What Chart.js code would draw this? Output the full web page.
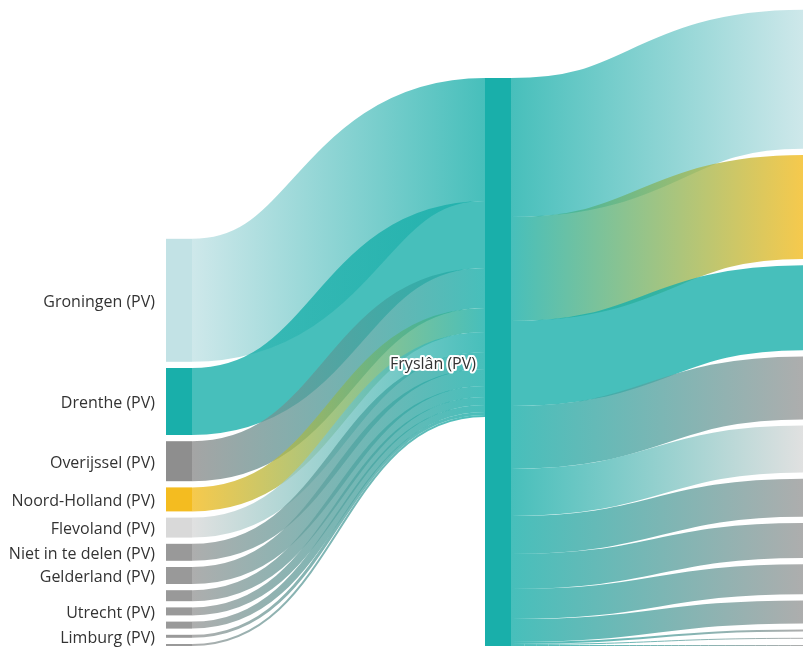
<!DOCTYPE html>
<html>
<head>
<meta charset="utf-8">
<script src="https://cdn.jsdelivr.net/npm/chart.js@4.4.1/dist/chart.umd.min.js"></script>
<style>
  html, body { margin: 0; padding: 0; background: #ffffff; }
  #wrap { width: 803px; height: 648px; }
</style>
</head>
<body>
<div id="wrap"><canvas id="c" width="803" height="648"></canvas></div>
<script>
// ---- data ----
const sourceNodes = ['Groningen (PV)', 'Drenthe (PV)', 'Overijssel (PV)', 'Noord-Holland (PV)', 'Flevoland (PV)',
  'Niet in te delen (PV)', 'Gelderland (PV)', 'Zuid-Holland (PV)', 'Utrecht (PV)', 'Noord-Brabant (PV)',
  'Limburg (PV)', 'Zeeland (PV)'];
const sourceValues = [123, 67, 40, 24, 20, 17, 17, 11, 8, 7, 3, 2];
const sourceColors = ['#c2e2e5', '#19afaa', '#8e8e8e', '#f4bc20', '#d9d9d9',
  '#999999', '#999999', '#999999', '#999999', '#999999', '#999999', '#999999'];

const hubNode = 'Fryslân (PV)';
const hubColor = '#19afaa';

const targetNodes = ['Groningen', 'Noord-Holland', 'Drenthe', 'Overijssel', 'Flevoland', 'Gelderland',
  'Zuid-Holland', 'Niet in te delen', 'Utrecht', 'Noord-Brabant', 'Limburg', 'Zeeland'];
const targetValues = [139, 104, 85, 63, 47, 38, 35, 30, 23, 2, 1, 1];
const targetColors = ['#c2e2e5', '#f4bc20', '#19afaa', '#999999', '#d9d9d9',
  '#999999', '#999999', '#999999', '#999999', '#999999', '#999999', '#999999'];

// ---- layout settings ----
const NODE_WIDTH = 26;      // px
const NODE_PADDING = 6.2;   // value units (y scale is 1 unit per px)
const BASELINE = 646;       // columns are bottom aligned here (value units)
const LINK_ALPHA = 0.8;
const LABEL_GAP = 22;       // min distance between label centres
const FONT = '16px "Open Sans", "Noto Sans", sans-serif';

function hexToRgba(hex, a) {
  const n = parseInt(hex.slice(1), 16);
  return 'rgba(' + ((n >> 16) & 255) + ',' + ((n >> 8) & 255) + ',' + (n & 255) + ',' + a + ')';
}

// Build node/link tables from the arrays
function buildGraph() {
  const nodes = [];
  sourceNodes.forEach((name, i) => nodes.push({ name, color: sourceColors[i], col: 0, value: sourceValues[i] }));
  const hubIdx = nodes.length;
  const hubIn = sourceValues.reduce((a, b) => a + b, 0);
  const hubOut = targetValues.reduce((a, b) => a + b, 0);
  nodes.push({ name: hubNode, color: hubColor, col: 1, value: Math.max(hubIn, hubOut) });
  targetNodes.forEach((name, i) => nodes.push({ name, color: targetColors[i], col: 2, value: targetValues[i] }));
  const links = [];
  sourceValues.forEach((v, i) => links.push({ from: i, to: hubIdx, value: v }));
  targetValues.forEach((v, i) => links.push({ from: hubIdx, to: hubIdx + 1 + i, value: v }));
  // vertical layout in value units, columns bottom-aligned
  [0, 1, 2].forEach(col => {
    const colNodes = nodes.filter(n => n.col === col);
    const total = colNodes.reduce((a, n) => a + n.value, 0) + NODE_PADDING * (colNodes.length - 1);
    let y = BASELINE - total;
    colNodes.forEach(n => { n.y0 = y; n.y1 = y + n.value; n.outY = y; n.inY = y; y = n.y1 + NODE_PADDING; });
  });
  links.forEach(l => {
    const s = nodes[l.from], t = nodes[l.to];
    l.sy = s.outY + l.value / 2; s.outY += l.value;
    l.ty = t.inY + l.value / 2; t.inY += l.value;
  });
  return { nodes, links };
}

const graph = buildGraph();

const sankeyPlugin = {
  id: 'sankeyDraw',
  afterDatasetsDraw(chart) {
    const ctx = chart.ctx;
    const xs = chart.scales.x, ys = chart.scales.y;
    const nx = n => xs.getPixelForValue(n.col);
    const py = v => ys.getPixelForValue(v);
    const unit = Math.abs(py(1) - py(0));
    ctx.save();
    // links (stroked centre curves, d3 style)
    graph.links.forEach(l => {
      const s = graph.nodes[l.from], t = graph.nodes[l.to];
      const x0 = nx(s) + NODE_WIDTH, x1 = nx(t);
      const y0 = py(l.sy), y1 = py(l.ty);
      const xm = (x0 + x1) / 2;
      const g = ctx.createLinearGradient(x0, 0, x1, 0);
      g.addColorStop(0, hexToRgba(s.color, LINK_ALPHA));
      g.addColorStop(1, hexToRgba(t.color, LINK_ALPHA));
      ctx.beginPath();
      ctx.moveTo(x0, y0);
      ctx.bezierCurveTo(xm, y0, xm, y1, x1, y1);
      ctx.lineWidth = Math.max(1, l.value * unit);
      ctx.lineCap = 'butt';
      ctx.strokeStyle = g;
      ctx.stroke();
    });
    // nodes
    graph.nodes.forEach(n => {
      const x = nx(n);
      const yTop = py(n.y0), yBot = py(n.y1);
      ctx.fillStyle = n.color;
      ctx.fillRect(x, yTop, NODE_WIDTH, yBot - yTop);
    });
    // labels (left of node, overlapping ones hidden)
    ctx.font = FONT;
    ctx.textBaseline = 'middle';
    ctx.textAlign = 'right';
    [0, 1].forEach(col => {
      let last = -Infinity;
      graph.nodes.filter(n => n.col === col).forEach(n => {
        const cy = py((n.y0 + n.y1) / 2);
        if (cy - last < LABEL_GAP) return;
        last = cy;
        const x = nx(n) - (col === 0 ? 11 : 9);
        const ty = cy + 2;
        if (col === 1) {
          ctx.lineJoin = 'round';
          ctx.lineWidth = 4;
          ctx.strokeStyle = '#ffffff';
          ctx.strokeText(n.name, x, ty);
        }
        ctx.fillStyle = '#333333';
        ctx.fillText(n.name, x, ty);
      });
    });
    ctx.restore();
  }
};

new Chart(document.getElementById('c'), {
  type: 'scatter',
  data: { datasets: [{ data: [], pointRadius: 0 }] },
  options: {
    responsive: false,
    animation: false,
    devicePixelRatio: 1,
    layout: { padding: 0 },
    plugins: { legend: { display: false }, tooltip: { enabled: false }, title: { display: false } },
    scales: {
      x: { type: 'linear', display: false, min: -166 / 319, max: 637 / 319 },
      y: { type: 'linear', display: false, reverse: true, min: 0, max: 648 }
    }
  },
  plugins: [sankeyPlugin]
});
</script>
</body>
</html>
